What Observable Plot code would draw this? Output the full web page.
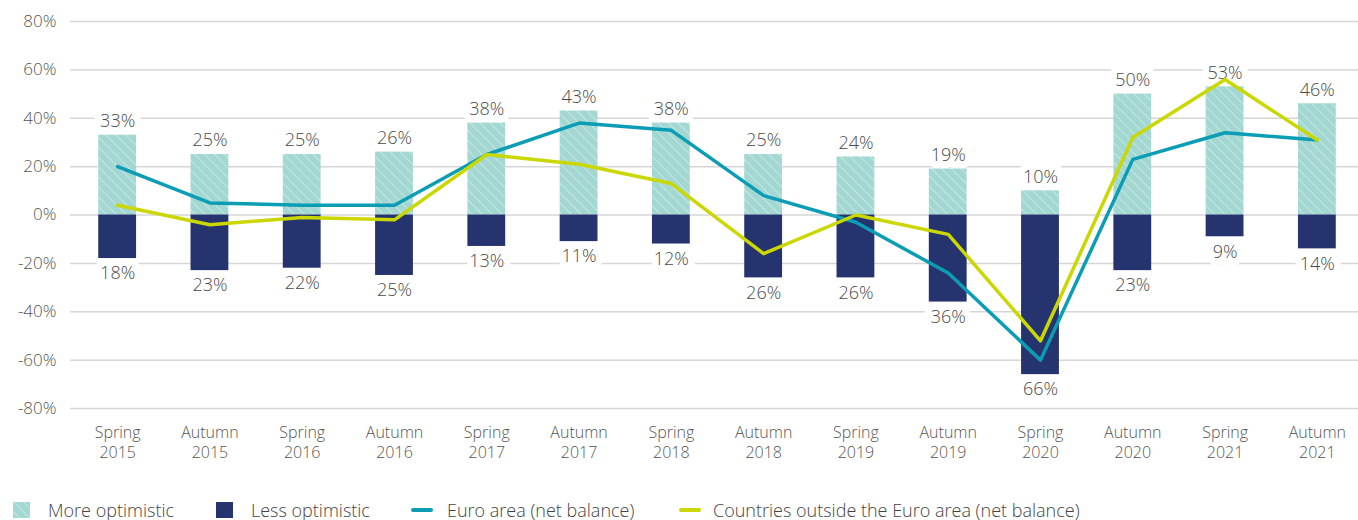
<!DOCTYPE html>
<html>
<head>
<meta charset="utf-8">
<script src="https://cdn.jsdelivr.net/npm/d3@7"></script>
<script src="https://cdn.jsdelivr.net/npm/@observablehq/plot@0.6"></script>
<style>
  html, body { margin: 0; padding: 0; background: #fff; }
  body { font-family: "Open Sans", sans-serif; width: 1358px; height: 520px; overflow: hidden; position: relative; }
  #legend { position: relative; height: 50px; font-size: 18px; color: #444; font-weight: 300; }
  .item { position: absolute; top: 30px; display: flex; align-items: center; height: 20px; white-space: nowrap; }
  .sw { display: inline-block; margin-right: 18px; }
</style>
</head>
<body>
<div id="chart"></div>
<div id="legend"></div>
<script>
const periods = ["Spring 2015","Autumn 2015","Spring 2016","Autumn 2016","Spring 2017","Autumn 2017","Spring 2018","Autumn 2018","Spring 2019","Autumn 2019","Spring 2020","Autumn 2020","Spring 2021","Autumn 2021"];
const moreOptimistic = [33,25,25,26,38,43,38,25,24,19,10,50,53,46];
const lessOptimistic = [18,23,22,25,13,11,12,26,26,36,66,23,9,14];
const euroNet = [20,5,4,4,25,38,35,8,-3,-24,-60,23,34,31];
const outsideNet = [4,-4,-1,-2,25,21,13,-16,0,-8,-52,32,56,31];
const yTicks = [-80,-60,-40,-20,0,20,40,60,80];
const seriesNames = ["More optimistic","Less optimistic","Euro area (net balance)","Countries outside the Euro area (net balance)"];

const colMore = "#a3d7d2", colLess = "#25346e", colEuro = "#0a9db5", colOut = "#cbd700";

const rows = periods.map((p, i) => ({p, more: moreOptimistic[i], less: lessOptimistic[i], euro: euroNet[i], out: outsideNet[i]}));

const chart = Plot.plot({
  width: 1358,
  height: 470,
  marginTop: 21,
  marginBottom: 62,
  marginLeft: 70,
  marginRight: 0,
  style: {fontFamily: "Open Sans, sans-serif", color: "#555", overflow: "visible", fontWeight: 300},
  x: {domain: periods, range: [71, 1363], paddingInner: 0.59, paddingOuter: 0.295, round: false, label: null},
  y: {domain: [-80, 80], label: null},
  marks: [
    Plot.ruleY(yTicks, {stroke: "#d6d6d6", strokeWidth: 1.5}),
    Plot.axisY(yTicks, {tickSize: 0, tickPadding: 14, fontSize: 17, tickFormat: d => d + "%", fill: "#555", label: null}),
    Plot.axisX({tickSize: 0, tickPadding: 15, fontSize: 16, fill: "#555", tickFormat: d => d.replace(" ", "\n"), lineHeight: 1.25, label: null}),
    Plot.text(rows, {x: "p", y: "more", text: d => d.more + "%", dy: -14, fontSize: 18, fill: "#4a4a4a", stroke: "white", strokeWidth: 14, strokeLinejoin: "round", paintOrder: "stroke"}),
    Plot.text(rows, {x: "p", y: d => -d.less, text: d => d.less + "%", dy: 15, fontSize: 18, fill: "#4a4a4a", stroke: "white", strokeWidth: 14, strokeLinejoin: "round", paintOrder: "stroke"}),
    Plot.barY(rows, {x: "p", y1: 0, y2: "more", fill: "url(#hatch)"}),
    Plot.barY(rows, {x: "p", y1: 0, y2: d => -d.less, fill: colLess}),
    Plot.line(rows, {x: "p", y: "euro", stroke: colEuro, strokeWidth: 3.5, strokeLinejoin: "round"}),
    Plot.line(rows, {x: "p", y: "out", stroke: colOut, strokeWidth: 3.5, strokeLinejoin: "round"})
  ]
});

// hatch pattern definition
const ns = "http://www.w3.org/2000/svg";
const defs = document.createElementNS(ns, "defs");
defs.innerHTML = `<pattern id="hatch" patternUnits="userSpaceOnUse" width="7" height="7" patternTransform="rotate(-45)">
  <rect width="7" height="7" fill="${colMore}"></rect>
  <line x1="0" y1="0" x2="0" y2="7" stroke="#ffffff" stroke-opacity="0.5" stroke-width="1.5"></line>
</pattern>`;
chart.insertBefore(defs, chart.firstChild);
document.getElementById("chart").appendChild(chart);

// legend
const legend = document.getElementById("legend");
const lefts = [13, 216, 411, 679];
const swatches = [
  `<svg class="sw" width="17" height="16"><defs><pattern id="hatchL" patternUnits="userSpaceOnUse" width="7" height="7" patternTransform="rotate(-45)"><rect width="7" height="7" fill="${colMore}"></rect><line x1="0" y1="0" x2="0" y2="7" stroke="#fff" stroke-opacity="0.5" stroke-width="1.5"></line></pattern></defs><rect width="17" height="16" fill="url(#hatchL)"></rect></svg>`,
  `<svg class="sw" width="17" height="16"><rect width="17" height="16" fill="${colLess}"></rect></svg>`,
  `<svg class="sw" width="22" height="16" style="margin-right:14px"><line x1="2" y1="8" x2="20" y2="8" stroke="${colEuro}" stroke-width="4" stroke-linecap="round"></line></svg>`,
  `<svg class="sw" width="22" height="16" style="margin-right:12px"><line x1="2" y1="8" x2="20" y2="8" stroke="${colOut}" stroke-width="4" stroke-linecap="round"></line></svg>`
];
seriesNames.forEach((name, i) => {
  const d = document.createElement("div");
  d.className = "item";
  d.style.left = lefts[i] + "px";
  d.innerHTML = swatches[i] + `<span>${name}</span>`;
  legend.appendChild(d);
});
</script>
</body>
</html>
